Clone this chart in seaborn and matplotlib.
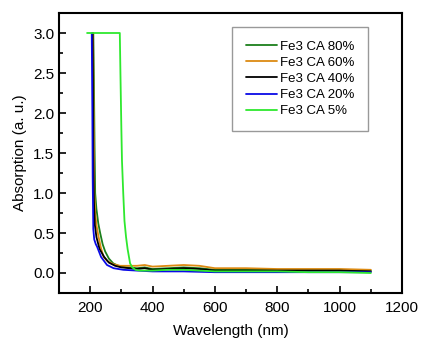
import matplotlib
matplotlib.use("Agg")
import matplotlib.pyplot as plt
import seaborn as sns
import pandas as pd
from matplotlib.ticker import MultipleLocator

# --- data ---
wl_80 = [210, 212, 214, 216, 220, 226, 232, 240, 248, 260, 274, 296, 320, 350, 375, 400, 450, 500, 550, 600, 700, 800, 900, 1000, 1100]
abs_80 = [3.0, 2.4, 1.6, 1.0, 0.8, 0.62, 0.5, 0.36, 0.27, 0.18, 0.12, 0.08, 0.07, 0.06, 0.07, 0.05, 0.06, 0.07, 0.06, 0.04, 0.04, 0.04, 0.04, 0.04, 0.03]

wl_60 = [209, 211, 213, 216, 220, 226, 234, 243, 255, 274, 296, 320, 350, 375, 400, 450, 500, 550, 600, 700, 800, 900, 1000, 1100]
abs_60 = [3.0, 2.0, 1.0, 0.75, 0.6, 0.47, 0.32, 0.2, 0.15, 0.11, 0.09, 0.09, 0.09, 0.1, 0.08, 0.09, 0.1, 0.09, 0.06, 0.06, 0.05, 0.05, 0.05, 0.04]

wl_40 = [208, 210, 212, 215, 220, 230, 245, 260, 280, 300, 350, 375, 400, 450, 500, 550, 600, 700, 800, 900, 1000, 1100]
abs_40 = [3.0, 1.5, 0.9, 0.6, 0.45, 0.3, 0.2, 0.13, 0.09, 0.07, 0.05, 0.06, 0.04, 0.05, 0.06, 0.05, 0.03, 0.03, 0.03, 0.03, 0.03, 0.02]

wl_20 = [205, 207, 208, 210, 213, 218, 222, 235, 254, 275, 306, 350, 400, 500, 600, 700, 800, 900, 1000, 1100]
abs_20 = [3.0, 2.0, 1.2, 0.55, 0.42, 0.36, 0.33, 0.2, 0.1, 0.06, 0.04, 0.03, 0.02, 0.02, 0.01, 0.01, 0.01, 0.01, 0.01, 0.01]

wl_5 = [190, 295, 297, 300, 302, 306, 310, 315, 320, 328, 335, 345, 360, 400, 450, 500, 550, 600, 700, 800, 900, 1000, 1100]
abs_5 = [3.0, 3.0, 2.5, 1.8, 1.4, 1.0, 0.65, 0.45, 0.3, 0.12, 0.07, 0.04, 0.03, 0.03, 0.04, 0.04, 0.03, 0.02, 0.02, 0.02, 0.01, 0.01, 0.0]

labels = ["Fe3 CA 80%", "Fe3 CA 60%", "Fe3 CA 40%", "Fe3 CA 20%", "Fe3 CA 5%"]
colors = ["#1b7f1b", "#dc8a12", "#000000", "#0a0ae6", "#2ee82e"]

series = [(wl_80, abs_80), (wl_60, abs_60), (wl_40, abs_40), (wl_20, abs_20), (wl_5, abs_5)]
frames = []
for lab, (x, y) in zip(labels, series):
    frames.append(pd.DataFrame({"Wavelength": x, "Absorption": y, "sample": lab}))
df = pd.concat(frames, ignore_index=True)

sns.set_style("ticks")
plt.rcParams["font.family"] = ["Liberation Sans", "DejaVu Sans"]
plt.rcParams["text.color"] = "black"
plt.rcParams["axes.labelcolor"] = "black"
plt.rcParams["xtick.color"] = "black"
plt.rcParams["ytick.color"] = "black"
plt.rcParams["axes.edgecolor"] = "black"

fig = plt.figure(figsize=(4.21, 3.40), dpi=100)
ax = fig.add_axes([59 / 421, 1 - 293 / 340, (402 - 59) / 421, (293 - 13) / 340])

sns.lineplot(data=df, x="Wavelength", y="Absorption", hue="sample",
             hue_order=labels, palette=colors, sort=False, estimator=None,
             linewidth=1.3, ax=ax)

ax.set_xlim(100, 1200)
ax.set_ylim(-0.25, 3.25)
ax.xaxis.set_major_locator(MultipleLocator(200))
ax.xaxis.set_minor_locator(MultipleLocator(100))
ax.yaxis.set_major_locator(MultipleLocator(0.5))
ax.yaxis.set_minor_locator(MultipleLocator(0.25))
ax.tick_params(which="both", direction="in", width=1.2, labelsize=11)
ax.tick_params(which="major", length=5)
ax.tick_params(which="minor", length=3)
ax.tick_params(axis="x", pad=6)
for s in ax.spines.values():
    s.set_linewidth(1.5)

ax.set_xlabel("Wavelength (nm)", fontsize=11, labelpad=6)
ax.set_ylabel("Absorption (a. u.)", fontsize=11)

ax.legend(title=None, loc="upper left", bbox_to_anchor=(0.485, 0.975),
          fontsize=9.5, frameon=True, fancybox=False, edgecolor="#808080",
          handlelength=2.4, labelspacing=0.3, borderpad=1.05, handletextpad=0.2)

fig.savefig("out.png", dpi=100)
